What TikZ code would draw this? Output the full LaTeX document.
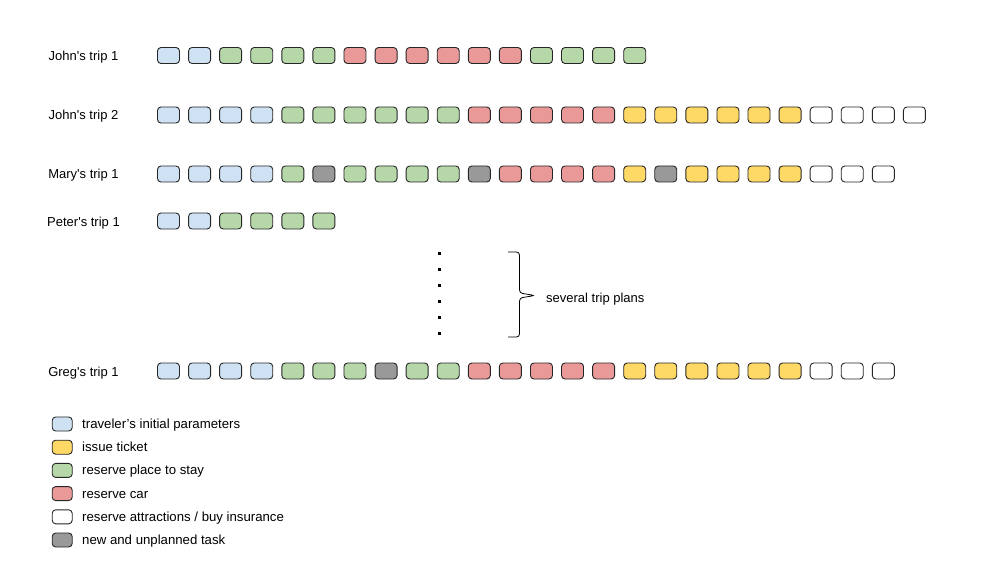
\documentclass[tikz,border=0pt]{standalone}
\usepackage{fontspec}
\setmainfont{Liberation Sans}
\definecolor{bl}{HTML}{CFE2F3}
\definecolor{gr}{HTML}{B6D7A8}
\definecolor{rd}{HTML}{EA9999}
\definecolor{yl}{HTML}{FFD966}
\definecolor{gy}{HTML}{999999}
\definecolor{wh}{HTML}{FFFFFF}
\tikzset{
  task/.style={draw=black!85, line width=0.9pt, rounded corners=3.5pt, inner sep=0pt,
    minimum width=22pt, minimum height=16pt},
  key/.style={task, minimum width=20pt, minimum height=14pt},
  lbl/.style={font=\fontsize{13}{15}\selectfont, inner sep=0pt},
}
\begin{document}
\begin{tikzpicture}[x=1pt,y=-1pt]
      \useasboundingbox (0,0) rectangle (990,580);
      % one row of tasks per trip
      \foreach \r/\y/\who/\seq in {
          1/55.5/{John\textquotesingle s trip 1}/{bl,bl,gr,gr,gr,gr,rd,rd,rd,rd,rd,rd,gr,gr,gr,gr},
          2/115/{John\textquotesingle s trip 2}/{bl,bl,bl,bl,gr,gr,gr,gr,gr,gr,rd,rd,rd,rd,rd,yl,yl,yl,yl,yl,yl,wh,wh,wh,wh},
          3/174/{Mary\textquotesingle s trip 1}/{bl,bl,bl,bl,gr,gy,gr,gr,gr,gr,gy,rd,rd,rd,rd,yl,gy,yl,yl,yl,yl,wh,wh,wh},
          4/221/{Peter\textquotesingle s trip 1}/{bl,bl,gr,gr,gr,gr},
          5/371/{Greg\textquotesingle s trip 1}/{bl,bl,bl,bl,gr,gr,gr,gy,gr,gr,rd,rd,rd,rd,rd,yl,yl,yl,yl,yl,yl,wh,wh,wh}}{
        \node[lbl, anchor=base](L\r) at (83.5, \y+5){\who};
        \foreach \c [count=\i] in \seq
          \node[task, fill=\c](N\r-\i) at (137.42+31.08*\i, \y){};
      }
      % more trips
      \foreach \k in {0,...,5}
        \node[fill=black, inner sep=0pt, minimum size=3.5pt](D\k) at (439.5, 253.3+16*\k){};
      \coordinate (BT) at (508,252);
      \coordinate (BM) at (535,295.5);
      \coordinate (BB) at (508,337);
      \draw[line width=0.8pt, rounded corners=3pt] (BT) -| (519.5,293) -- (BM) -- (519.5,298) |- (BB);
      \node[lbl, anchor=base west](P) at (546,302){several trip plans};
      % legend
      \foreach \c/\txt [count=\i] in {bl/traveler’s initial parameters, yl/issue ticket,
          gr/reserve place to stay, rd/reserve car, wh/{reserve attractions / buy insurance},
          gy/new and unplanned task}{
        \node[key, fill=\c](K\i) at (62.2, 400.8+23.2*\i){};
        \node[lbl, font=\fontsize{13.2}{15}\selectfont, anchor=base west](KT\i) at (82, 405.3+23.2*\i){\txt};
      }
    \end{tikzpicture}
\end{document}
